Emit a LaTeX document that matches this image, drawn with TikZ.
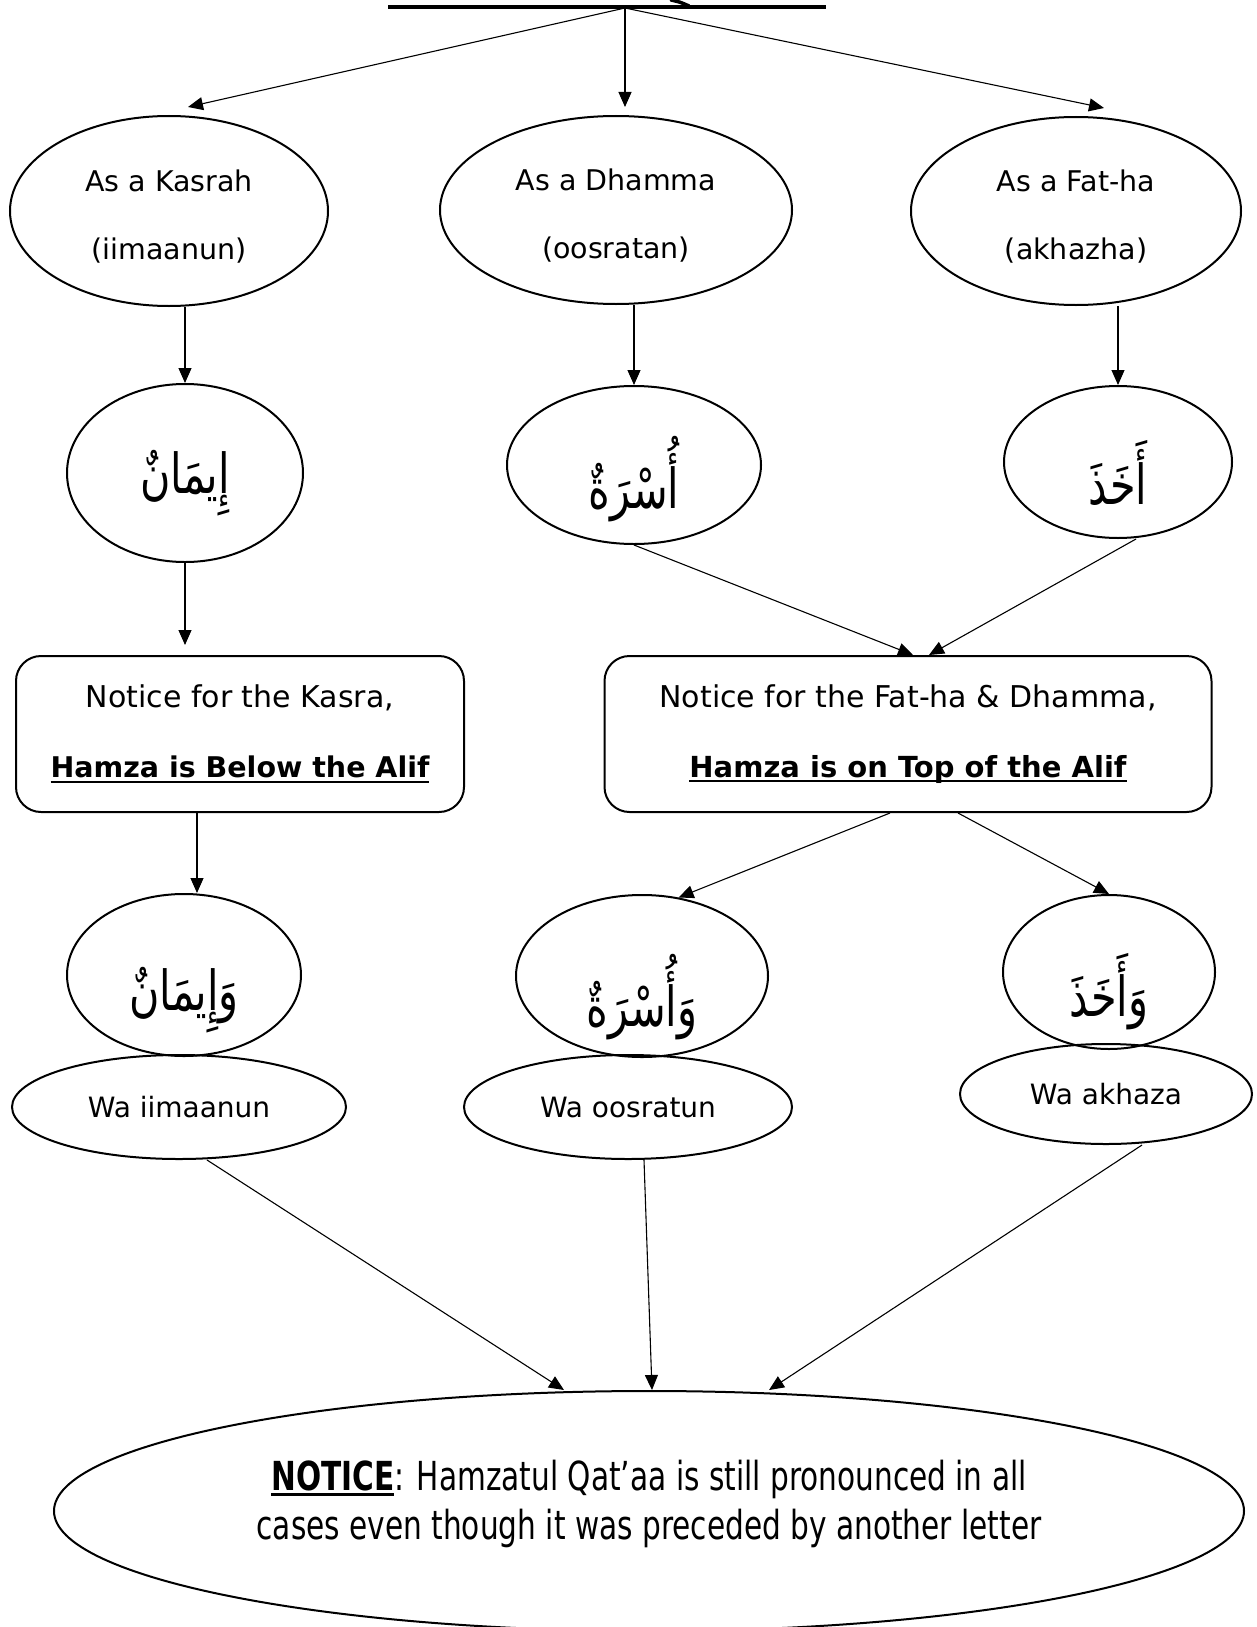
\documentclass[tikz,border=0pt]{standalone}
\usepackage{fontspec}
\setmainfont{DejaVu Sans}
\newfontfamily\arabicfont[Script=Arabic]{DejaVu Sans}
\usetikzlibrary{shapes.geometric,arrows.meta}
\TeXXeTstate=1
\newsavebox\ulinebox
\newcommand\ulin[1]{\sbox\ulinebox{#1}\rlap{\rule[-5pt]{\wd\ulinebox}{2.4pt}}\usebox\ulinebox}
% Arabic words: a little narrower and taller than the plain font
\newcommand\arw[1]{\scalebox{0.9}[1.2]{\arabicfont\beginR #1\endR}}
\begin{document}
\begin{tikzpicture}[x=1pt,y=-1pt,
  oval/.style={ellipse, draw, line width=2pt, inner sep=0pt},
  twoline/.style={align=center, font=\fontsize{28.5}{68}\selectfont},
  label/.style={font=\fontsize{28}{34}\selectfont},
  arab/.style={font=\fontsize{46}{60}\selectfont, inner sep=0pt},
  notebox/.style={rectangle, rounded corners=25pt, draw, line width=2pt, align=center,
                  font=\fontsize{30}{70}\selectfont, inner sep=0pt},
  arr/.style={-{Triangle[length=15pt,width=13pt]}, line width=1.1pt}]
\useasboundingbox (0,0) rectangle (1257,1627);

% heading rule and the tail of its last visible letter
\fill (388,5) rectangle (826,9);
\draw[line width=3.5pt, line cap=round] (671,0) .. controls (680,2) .. (689,6);
\coordinate (apex) at (625,8);

% first row: the three vowels
\node[oval, minimum width=318pt, minimum height=190pt] (kas) at (169,211) {};
\node[oval, minimum width=352pt, minimum height=188pt] (dha) at (616,210) {};
\node[oval, minimum width=330pt, minimum height=188pt] (fat) at (1076,211) {};
\node[twoline] (kast) at (169,217) {As a Kasrah\\(iimaanun)};
\node[twoline] (dhat) at (616,216) {As a Dhamma\\(oosratan)};
\node[twoline] (fatt) at (1076,217) {As a Fat-ha\\(akhazha)};

% second row: the words
\node[oval, minimum width=236pt, minimum height=178pt] (ima) at (185,473) {};
\node[oval, minimum width=254pt, minimum height=158pt] (usr) at (634,465) {};
\node[oval, minimum width=228pt, minimum height=152pt] (akh) at (1118,462) {};
\node[arab] (imat) at (185,483) {\arw{إِيمَانٌ}};
\node[arab] (usrt) at (634,479) {\arw{أُسْرَةٌ}};
\node[arab] (akht) at (1118,473) {\arw{أَخَذَ}};

% notices
\node[notebox, minimum width=448pt, minimum height=156pt] (b1) at (240,734)
  {Notice for the Kasra,\\{\fontsize{28.5}{70}\selectfont\bfseries\ulin{Hamza is Below the Alif}}};
\node[notebox, minimum width=607pt, minimum height=156pt] (b2) at (908,734)
  {Notice for the Fat-ha \& Dhamma,\\{\fontsize{29}{70}\selectfont\bfseries\ulin{Hamza is on Top of the Alif}}};

% words preceded by waw
\node[oval, minimum width=234pt, minimum height=162pt] (wima) at (184,975) {};
\node[oval, minimum width=252pt, minimum height=162pt] (wusr) at (642,976) {};
\node[oval, minimum width=212pt, minimum height=154pt] (wakh) at (1109,972) {};
\node[arab] (wimat) at (184,1000) {\arw{وَإِيمَانٌ}};
\node[arab] (wusrt) at (642,997) {\arw{وَأُسْرَةٌ}};
\node[arab] (wakht) at (1109,992) {\arw{وَأَخَذَ}};

% transliterations
\node[oval, label, minimum width=334pt, minimum height=104pt] (lima) at (179,1107) {Wa iimaanun};
\node[oval, label, minimum width=328pt, minimum height=104pt] (lusr) at (628,1107) {Wa oosratun};
\node[oval, label, minimum width=292pt, minimum height=100pt] (lakh) at (1106,1094) {Wa akhaza};

% closing remark
\node[oval, minimum width=1190pt, minimum height=240pt] (note) at (649,1511) {};
\node[align=center, font=\fontsize{40}{49}\selectfont] (notet) at (649,1504)
  {\scalebox{0.74}[1]{\ulin{\bfseries NOTICE}: Hamzatul Qat’aa is still pronounced in all}\\
   \scalebox{0.74}[1]{cases even though it was preceded by another letter}};

% connectors
\draw[arr] (apex) -- ([xshift=19pt,yshift=8pt]kas.north);
\draw[arr] (apex) -- ([xshift=9pt,yshift=8pt]dha.north);
\draw[arr] (apex) -- ([xshift=28pt,yshift=8pt]fat.north);

\draw[arr] (kas.south -| ima.north) -- (ima.north);
\draw[arr] (dha.south -| usr.north) -- (usr.north);
\draw[arr] (fat.south -| akh.north) -- (akh.north);

\draw[arr, shorten >=10pt] (ima.south) -- (ima.south |- b1.north);
\draw[arr] (usr.south) -- ([xshift=5pt]b2.north);
\draw[arr] ([xshift=18pt]akh.south) -- ([xshift=21pt]b2.north);

\coordinate (t1) at ([xshift=13pt]wima.north);
\draw[arr] (b1.south -| t1) -- (t1);
\draw[arr] ([xshift=-18pt]b2.south) -- (wusr.65);
\draw[arr] ([xshift=50pt]b2.south) -- (wakh.north);

\draw[arr] ([xshift=28pt]lima.south) -- ([xshift=-85pt]note.north);
\draw[arr] ([xshift=16pt]lusr.south) -- ([xshift=3pt]note.north);
\draw[arr] ([xshift=36pt]lakh.south) -- ([xshift=120pt]note.north);
\end{tikzpicture}
\end{document}
